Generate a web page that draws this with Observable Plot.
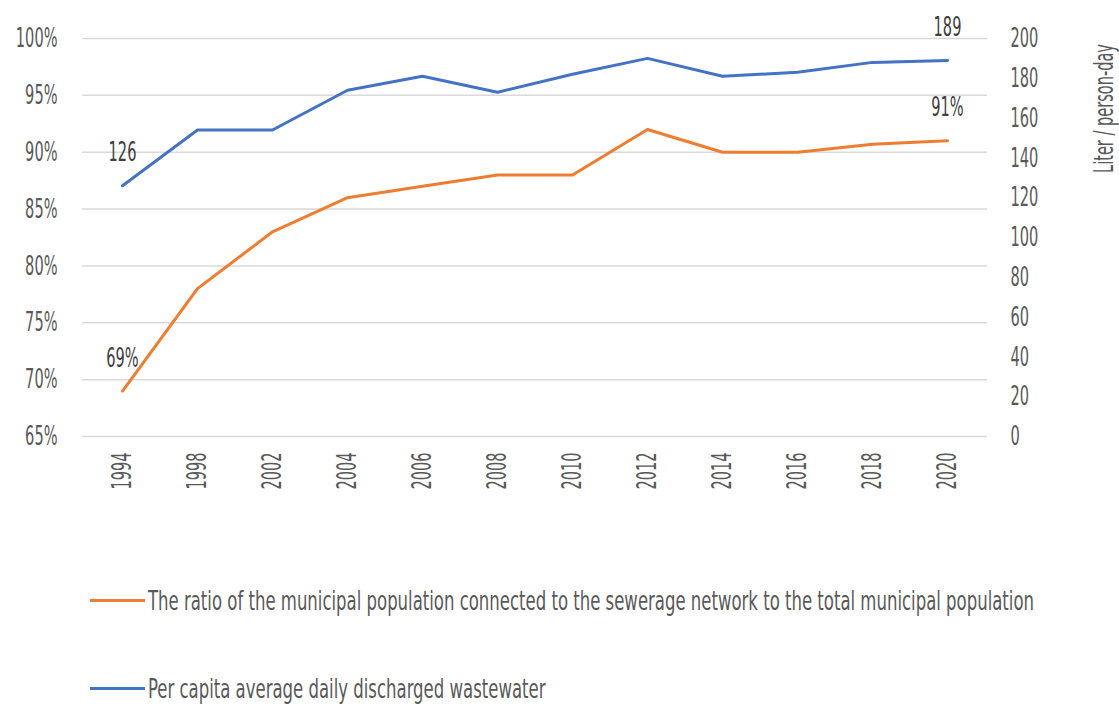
<!DOCTYPE html>
<html>
<head>
<meta charset="utf-8">
<script src="https://cdn.jsdelivr.net/npm/d3@7"></script>
<script src="https://cdn.jsdelivr.net/npm/@observablehq/plot@0.6"></script>
<style>
  html, body { margin: 0; padding: 0; background: #fff; }
  #wrap { position: relative; width: 1119px; height: 704px; overflow: hidden;
          font-family: "DejaVu Sans Condensed", "DejaVu Sans", sans-serif; font-stretch: condensed; color: #595959; }
  .leg { position: absolute; left: 90px; display: flex; align-items: center; font-size: 27px; white-space: nowrap; }
  .leg .sw { width: 55px; height: 3px; margin-right: 3px; flex: none; }
  .leg .tx { display: inline-block; transform: scaleX(0.68); transform-origin: left center; }
</style>
</head>
<body>
<div id="wrap">
  <div id="chart"></div>
  <div class="leg" style="top:585px"><span class="sw" style="background:#ED7D31"></span><span class="tx" id="l1"></span></div>
  <div class="leg" style="top:673px"><span class="sw" style="background:#4472C4"></span><span class="tx" id="l2"></span></div>
</div>
<script>
const years = ["1994","1998","2002","2004","2006","2008","2010","2012","2014","2016","2018","2020"];
const ratioPct = [69, 78, 83, 86, 87, 88, 88, 92, 90, 90, 90.7, 91];
const litersPerDay = [126, 154, 154, 174, 181, 173, 182, 190, 181, 183, 188, 189];
const leftTicks = [65, 70, 75, 80, 85, 90, 95, 100];
const rightTicks = [0, 20, 40, 60, 80, 100, 120, 140, 160, 180, 200];
const seriesNames = [
  "The ratio of the municipal population connected to the sewerage network to the total municipal population",
  "Per capita average daily discharged wastewater"
];
const rightAxisTitle = "Liter / person-day";

// map right axis (0–200) onto left scale (65–100)
const toLeft = v => 65 + v * 35 / 200;
const toRight = p => Math.round((p - 65) * 200 / 35);

const orange = years.map((y, i) => ({year: y, v: ratioPct[i]}));
const blue = years.map((y, i) => ({year: y, v: toLeft(litersPerDay[i]), raw: litersPerDay[i]}));

const font = '"DejaVu Sans Condensed", "DejaVu Sans", sans-serif';

const chart = Plot.plot({
  width: 1119,
  height: 520,
  marginLeft: 82,
  marginRight: 132,
  marginTop: 38,
  marginBottom: 84,
  style: {fontFamily: font, fontSize: "27px", color: "#595959", background: "#fff", fontStretch: "condensed"},
  x: {type: "point", domain: years, padding: 0.5},
  y: {domain: [65, 100]},
  marks: [
    Plot.gridY(leftTicks, {stroke: "#d9d9d9", strokeOpacity: 1, strokeWidth: 1.5}),
    Plot.axisY(leftTicks, {anchor: "left", tickSize: 0, tickPadding: 25, tickFormat: d => d + "%", label: null}),
    Plot.axisY(rightTicks.map(toLeft), {anchor: "right", tickSize: 0, tickPadding: 23, tickFormat: d => toRight(d), label: null, textAnchor: "start"}),
    Plot.axisX(years, {anchor: "bottom", tickSize: 0, tickPadding: 16, tickRotate: -90, label: null}),
    Plot.lineY(blue, {x: "year", y: "v", stroke: "#4472C4", strokeWidth: 3}),
    Plot.lineY(orange, {x: "year", y: "v", stroke: "#ED7D31", strokeWidth: 3}),
    Plot.text([blue[0], blue[blue.length - 1]], {x: "year", y: "v", text: d => String(d.raw), dy: -33, fill: "#404040"}),
    Plot.text([orange[0], orange[orange.length - 1]], {x: "year", y: "v", text: d => d.v.toFixed(0) + "%", dy: -33, fill: "#404040"}),
    Plot.text([rightAxisTitle], {frameAnchor: "top-right", rotate: -90, textAnchor: "middle", dx: 106, dy: 70, fill: "#595959"})
  ]
});

// narrow the glyphs along the reading direction (condensed display face look)
const sx = 0.6;
const isNum = s => s != null && /^-?[\d.]+$/.test(s.trim());
chart.querySelectorAll("text").forEach(t => {
  const xa = t.getAttribute("x"), ya = t.getAttribute("y");
  const x = isNum(xa) ? +xa : 0, y = isNum(ya) ? +ya : 0;
  if (isNum(xa)) t.removeAttribute("x");
  if (isNum(ya)) t.removeAttribute("y");
  const T = t.getAttribute("transform") || "";
  t.setAttribute("transform", `${T} translate(${x},${y}) scale(${sx},1)`);
});

document.getElementById("chart").appendChild(chart);
document.getElementById("l1").textContent = seriesNames[0];
document.getElementById("l2").textContent = seriesNames[1];
</script>
</body>
</html>
